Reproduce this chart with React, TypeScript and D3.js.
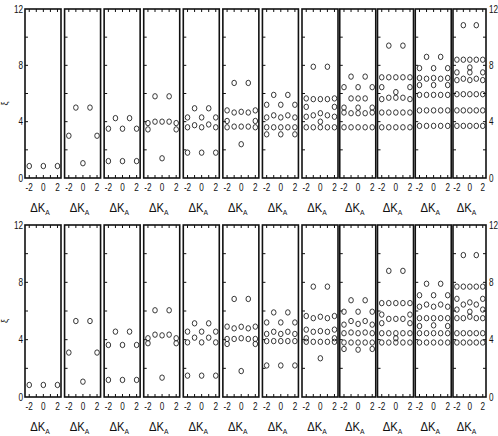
import React from 'react';
import * as d3 from 'd3';

// ΔK_A positions shared by every panel
const deltaK = [-2, -1, 0, 1, 2];

// each panel: one list of ξ values per ΔK_A column (same order as deltaK)
const top01 = [[0.85], [], [0.85], [], [0.85]];
const top02 = [[3.0], [5.0], [1.05], [5.0], [3.0]];
const top03 = [[3.5, 1.2], [4.25], [3.5, 1.2], [4.25], [3.5, 1.2]];
const top04 = [[3.9, 3.45], [5.8, 4.0], [4.0, 1.4], [5.8, 4.0], [3.9, 3.45]];
const top05 = [[4.3, 3.6, 1.8], [4.95, 3.75], [4.3, 3.6, 1.8], [4.95, 3.8], [4.3, 3.6, 1.8]];
const top06 = [[4.8, 4.05, 3.6], [6.75, 4.65, 3.65], [4.7, 3.65, 2.4], [6.75, 4.65, 3.65], [4.8, 4.05, 3.6]];
const top07 = [[5.2, 4.3, 3.6, 3.1], [5.9, 4.45, 3.6], [5.2, 4.3, 3.6, 3.1], [5.9, 4.45, 3.6], [5.2, 4.3, 3.6, 3.1]];
const top08 = [[5.65, 5.05, 4.35, 3.6], [7.9, 5.6, 4.45, 3.6], [5.6, 4.6, 4.0, 3.6], [7.9, 5.6, 4.45, 3.6], [5.65, 5.05, 4.35, 3.6]];
const top09 = [[6.45, 5.0, 4.65, 3.6], [7.2, 5.65, 4.6, 3.6], [6.45, 5.65, 5.0, 4.6, 3.6], [7.2, 5.65, 4.6, 3.6], [6.45, 5.0, 4.65, 3.6]];
const top10 = [[7.15, 6.45, 5.6, 4.65, 3.6], [9.4, 7.15, 5.7, 4.65, 3.6], [7.15, 6.1, 5.7, 4.65, 3.6], [9.4, 7.15, 5.7, 4.65, 3.6], [7.15, 6.45, 5.6, 4.65, 3.6]];
const top11 = [[7.8, 7.1, 6.6, 5.9, 4.8, 3.7], [8.6, 7.05, 5.9, 4.8, 3.7], [7.8, 7.1, 6.6, 5.9, 4.8, 3.7], [8.6, 7.05, 5.9, 4.8, 3.7], [7.8, 7.1, 6.6, 5.9, 4.8, 3.7]];
const top12 = [[8.4, 7.5, 6.95, 5.95, 4.8, 3.7], [10.85, 8.4, 7.05, 5.95, 4.8, 3.7], [8.4, 7.85, 7.5, 6.95, 5.95, 4.8, 3.7], [10.85, 8.4, 7.05, 5.95, 4.8, 3.7], [8.4, 7.5, 6.95, 5.95, 4.8, 3.7]];

const bot01 = [[0.84], [], [0.84], [], [0.84]];
const bot02 = [[3.1], [5.3], [1.07], [5.3], [3.1]];
const bot03 = [[3.63, 1.19], [4.56], [3.63, 1.19], [4.56], [3.63, 1.19]];
const bot04 = [[4.1, 3.75], [6.05, 4.35], [4.3, 1.35], [6.05, 4.35], [4.1, 3.75]];
const bot05 = [[4.56, 3.81, 1.49], [5.14, 4.14], [4.56, 3.81, 1.49], [5.14, 4.14], [4.56, 3.81, 1.49]];
const bot06 = [[4.91, 4.05, 3.7], [6.84, 4.79, 4.05], [4.9, 4.1, 1.81], [6.84, 4.79, 4.05], [4.91, 4.05, 3.7]];
const bot07 = [[5.2, 4.4, 3.9, 2.2], [5.9, 4.55, 3.9], [5.2, 4.4, 3.9, 2.2], [5.9, 4.55, 3.9], [5.2, 4.4, 3.9, 2.2]];
const bot08 = [[5.65, 4.7, 4.1, 3.85], [7.7, 5.5, 4.55, 3.85], [5.6, 4.6, 3.85, 2.7], [7.7, 5.5, 4.55, 3.85], [5.65, 4.7, 4.1, 3.85]];
const bot09 = [[5.95, 5.05, 4.45, 3.8, 3.35], [6.75, 5.3, 4.5, 3.8], [5.95, 5.1, 4.45, 3.8, 3.3], [6.75, 5.3, 4.5, 3.8], [5.95, 5.05, 4.45, 3.8, 3.35]];
const bot10 = [[6.55, 5.75, 5.15, 4.45, 3.8], [8.8, 6.55, 5.45, 4.45, 3.8], [6.55, 5.45, 4.45, 4.1, 3.8], [8.8, 6.55, 5.45, 4.45, 3.8], [6.55, 5.75, 5.15, 4.45, 3.8]];
const bot11 = [[7.1, 6.3, 5.5, 4.95, 4.45, 3.8], [7.9, 6.45, 5.5, 4.45, 3.8], [7.1, 6.3, 5.5, 5.0, 4.45, 3.8], [7.9, 6.45, 5.5, 4.45, 3.8], [7.1, 6.3, 5.5, 4.95, 4.45, 3.8]];
const bot12 = [[7.7, 6.85, 6.1, 5.5, 4.45, 3.8], [9.9, 7.7, 6.45, 5.5, 4.45, 3.8], [7.7, 6.6, 5.95, 5.6, 4.45, 3.8], [9.9, 7.7, 6.45, 5.5, 4.45, 3.8], [7.7, 6.85, 6.1, 5.5, 4.45, 3.8]];

const topPanels = [top01, top02, top03, top04, top05, top06, top07, top08, top09, top10, top11, top12];
const botPanels = [bot01, bot02, bot03, bot04, bot05, bot06, bot07, bot08, bot09, bot10, bot11, bot12];

const xTickLabels = [-2, 0, 2];
const xTicks = [-2, -1, 0, 1, 2];
const yTickLabels = [0, 4, 8, 12];
const yTicks = [2, 4, 6, 8, 10];

const FONT = "'Liberation Sans', Arial, sans-serif";

// panel left edges drift slightly across the figure
const panelLeft = d3.scaleLinear().domain([0, 7, 11]).range([25, 302, 453]);
const panelWidth = d3.scaleLinear().domain([0, 10, 11]).range([36, 36, 33]);

// narrow numerals, like the original figure
const Num = ({ x, y, anchor, children }) => (
  <text transform={`translate(${x},${y}) scale(0.82,1)`} textAnchor={anchor} fontSize={10}
    fontFamily={FONT} fill="#111">{children}</text>
);

const Row = ({ panels, yTop, yBottom, ylabel }) => {
  const y = d3.scaleLinear().domain([0, 12]).range([yBottom, yTop]);
  const last = panels.length - 1;
  const rightEdge = panelLeft(last) + panelWidth(last);
  return (
    <g>
      {panels.map((cols, i) => {
        const x0 = panelLeft(i);
        const w = panelWidth(i);
        const x = d3.scaleLinear().domain([-2.6, 2.5]).range([x0, x0 + w]);
        const cx = x0 + w / 2;
        return (
          <g key={i}>
            {xTicks.map(t => (
              <g key={t}>
                <line x1={x(t)} x2={x(t)} y1={yBottom} y2={yBottom - 3} stroke="#111" strokeWidth={1} />
                <line x1={x(t)} x2={x(t)} y1={yTop} y2={yTop + 3} stroke="#111" strokeWidth={1} />
              </g>
            ))}
            {yTicks.map(t => (
              <line key={t} x1={x0} x2={x0 + 3} y1={y(t)} y2={y(t)} stroke="#111" strokeWidth={1} />
            ))}
            {i === last && yTicks.map(t => (
              <line key={'r' + t} x1={x0 + w} x2={x0 + w - 3} y1={y(t)} y2={y(t)} stroke="#111" strokeWidth={1} />
            ))}
            {cols.map((vals, c) => vals.map((v, k) => (
              <ellipse key={c + '-' + k} cx={x(deltaK[c])} cy={y(v)} rx={2.3} ry={2.7}
                fill="none" stroke="#222" strokeWidth={0.9} />
            )))}
            <rect x={x0} y={yTop} width={w} height={yBottom - yTop} fill="none" stroke="#111" strokeWidth={1.6} />
            {xTickLabels.map(t => (
              <Num key={t} x={x(t)} y={yBottom + 13} anchor="middle">
                {t < 0 ? '-' + Math.abs(t) : t}
              </Num>
            ))}
            <text transform={`translate(${cx - 3},${yBottom + 34}) scale(0.9,1)`} textAnchor="middle"
              fontSize={12.5} fontFamily={FONT} fill="#111">
              ΔK<tspan fontSize={7.5} dy={3}>A</tspan>
            </text>
          </g>
        );
      })}
      {yTickLabels.map(t => (
        <g key={t}>
          <Num x={23} y={y(t) + 3.5} anchor="end">{t}</Num>
          <Num x={rightEdge + 3} y={y(t) + 3.5} anchor="start">{t}</Num>
        </g>
      ))}
      <text transform={`translate(8,${(yTop + yBottom) / 2 + 10}) rotate(-90)`} textAnchor="middle"
        fontSize={9} fontFamily={FONT} fill="#111">{ylabel}</text>
    </g>
  );
};

export default function App() {
  return (
    <svg width={498} height={436} style={{ position: 'absolute', left: 0, top: 0, background: '#fff' }}>
      <rect width={498} height={436} fill="#fff" />
      <Row panels={topPanels} yTop={9} yBottom={178} ylabel="ξ" />
      <Row panels={botPanels} yTop={225} yBottom={397} ylabel="ξ" />
    </svg>
  );
}
